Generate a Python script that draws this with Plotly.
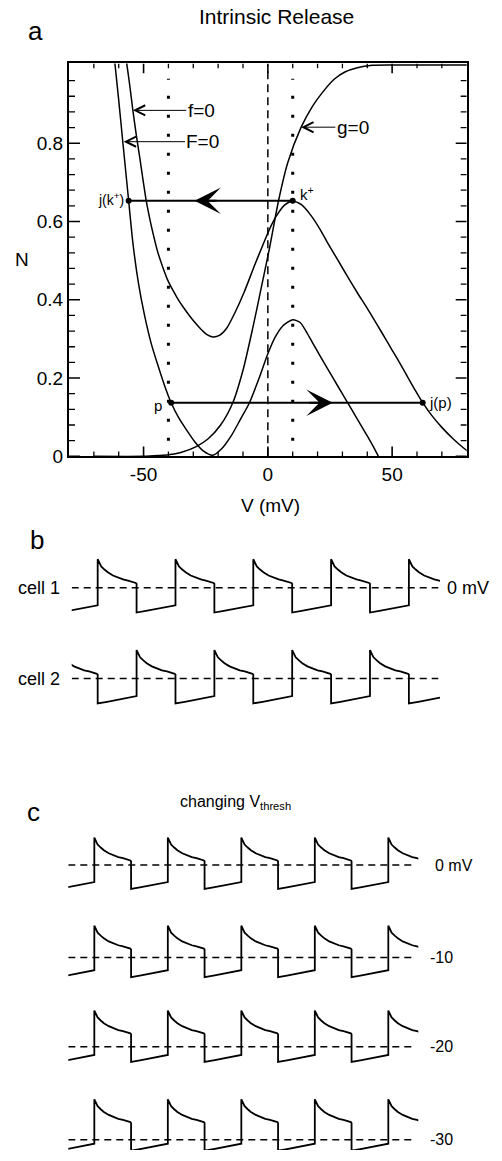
import plotly.graph_objects as go

FONT = "Liberation Sans, Arial, Helvetica, sans-serif"
W, H = 502, 1161

# ---------------- Panel a : phase plane ----------------
f0_V = [-58.5, -57.0, -55.5, -54.3, -52.9, -51.5, -50.2, -48.9, -47.6, -46.5, -44.3, -42.2,
        -40.2, -38.0, -36.0, -34.0, -32.2, -29.5, -26.8, -24.5, -22.1, -19.5, -16.5, -13.4,
        -9.5, -5.4, -2.0, 1.0, 3.5, 6.7, 10.0, 13.5, 17.4, 21.0, 24.1, 28.0, 32.2, 36.0,
        40.0, 44.0, 48.0, 52.0, 55.6, 59.0, 62.3, 66.0, 70.0, 74.5, 79.0, 82.0]
f0_N = [1.08, 1.014, 0.945, 0.884, 0.820, 0.762, 0.705, 0.652, 0.610, 0.578, 0.522, 0.482,
        0.449, 0.422, 0.400, 0.381, 0.365, 0.343, 0.324, 0.311, 0.305, 0.309, 0.328, 0.365,
        0.420, 0.487, 0.540, 0.585, 0.615, 0.642, 0.652, 0.643, 0.615, 0.580, 0.545, 0.503,
        0.458, 0.418, 0.378, 0.336, 0.293, 0.250, 0.210, 0.172, 0.137, 0.104, 0.074, 0.045,
        0.020, 0.006]

F0_V = [-62.5, -61.7, -60.0, -58.3, -56.0, -54.2, -52.0, -49.6, -47.0, -44.2, -41.5, -38.9,
        -36.0, -33.0, -29.5, -26.0, -22.1, -18.5, -14.5, -11.0, -7.4, -3.5, 0.0, 3.0, 6.0,
        10.0, 13.0, 15.5, 18.0, 21.0, 24.0, 28.0, 32.0, 36.0, 40.0, 43.5, 46.0]
F0_N = [1.06, 1.014, 0.910, 0.800, 0.653, 0.540, 0.440, 0.360, 0.290, 0.232, 0.180, 0.137,
        0.100, 0.070, 0.038, 0.014, 0.003, 0.020, 0.055, 0.095, 0.137, 0.200, 0.262, 0.305,
        0.333, 0.349, 0.342, 0.318, 0.290, 0.257, 0.224, 0.181, 0.138, 0.095, 0.052, 0.012,
        -0.02]

g0_V = [-70.0, -50.0, -44.0, -40.0, -35.0, -28.8, -24.0, -19.0, -14.1, -10.0, -6.0, -3.0,
        0.7, 4.3, 8.0, 13.4, 18.0, 22.0, 26.8, 31.0, 36.0, 42.0, 50.0, 85.0]
g0_N = [0.0, 0.0, 0.002, 0.004, 0.010, 0.025, 0.045, 0.080, 0.137, 0.220, 0.330, 0.420,
        0.533, 0.653, 0.750, 0.841, 0.895, 0.930, 0.964, 0.982, 0.993, 0.999, 1.0, 1.0]

V_THRESH = 0.0
DOTTED_V = [-40.0, 10.0]
DOTTED_N = [0.04, 0.965]
JUMP_HI_N = 0.653
JUMP_HI_V = [-56.0, 10.0]      # j(k+), k+
JUMP_LO_N = 0.137
JUMP_LO_V = [-38.9, 62.3]      # p, j(p)
ARROW_HI = [-29.5, -20.0]      # tip, tail
ARROW_LO = [26.1, 16.1]        # tip, tail

# tick values of panel a
X_MAJOR = [-50, 0, 50]
X_MAJOR_TEXT = ["-50", "0", "50"]
X_MINOR = [-70, -60, -40, -30, -20, -10, 10, 20, 30, 40, 60, 70]
Y_MAJOR = [0, 0.2, 0.4, 0.6, 0.8]
Y_MAJOR_TEXT = ["0", "0.2", "0.4", "0.6", "0.8"]
Y_MINOR = [0.04, 0.08, 0.12, 0.16, 0.24, 0.28, 0.32, 0.36, 0.44, 0.48, 0.52, 0.56,
           0.64, 0.68, 0.72, 0.76, 0.84, 0.88, 0.92, 0.96]

# ---------------- Panels b, c : voltage traces ----------------
CYCLE_T = [0, 0, 1, 2.2, 4.5, 8.7, 13, 19.6, 26, 32.6, 39, 45.6, 49, 50, 50, 62, 75, 88, 100]
CYCLE_V = [-39, 63, 58.5, 54.8, 47, 40.1, 34, 27, 22.5, 18.2, 15.6, 13.2, 10.5, 8.5,
           -55, -51.5, -47.5, -43.5, -39]
CELL1_ONSETS = [-100, 0, 100, 200, 300, 400]
CELL2_ONSETS = [-50, 50, 150, 250, 350]
C_ONSETS = [-100, 0, 100, 200, 300, 400]
C_THRESH = [0, -10, -20, -30]
C_LABELS = ["0 mV", "-10", "-20", "-30"]


def train(onsets):
    t, v = [], []
    for o in onsets:
        t += [o + x for x in CYCLE_T]
        v += CYCLE_V
    return t, v


fig = go.Figure()
BLK = "black"
XR = [-80, 80]
YR = [0, 1.004]
XDOM = [69 / W, 466.7 / W]
YDOM = [1 - 460.7 / H, 1 - 64 / H]
PX_PER_MV = (XDOM[1] - XDOM[0]) * W / (XR[1] - XR[0])
PX_PER_N = (YDOM[1] - YDOM[0]) * H / (YR[1] - YR[0])

# ---- panel a curves
for vv, nn in [(f0_V, f0_N), (F0_V, F0_N), (g0_V, g0_N)]:
    fig.add_trace(go.Scatter(x=vv, y=nn, mode="lines",
                             line=dict(color=BLK, width=1.5, shape="spline", smoothing=0.7),
                             xaxis="x", yaxis="y", hoverinfo="skip"))
fig.add_trace(go.Scatter(x=[V_THRESH, V_THRESH], y=[0, 1.0], mode="lines",
                         line=dict(color=BLK, width=1.5, dash="8px,5px"), xaxis="x", yaxis="y"))
for dv in DOTTED_V:
    fig.add_trace(go.Scatter(x=[dv, dv], y=DOTTED_N, mode="lines",
                             line=dict(color=BLK, width=3, dash="3px,16px"), xaxis="x", yaxis="y"))
fig.add_trace(go.Scatter(x=JUMP_HI_V, y=[JUMP_HI_N] * 2, mode="lines+markers",
                         line=dict(color=BLK, width=2), marker=dict(color=BLK, size=6),
                         xaxis="x", yaxis="y"))
fig.add_trace(go.Scatter(x=JUMP_LO_V, y=[JUMP_LO_N] * 2, mode="lines+markers",
                         line=dict(color=BLK, width=2), marker=dict(color=BLK, size=6),
                         xaxis="x", yaxis="y"))


# ---- inward tick marks on all four sides, placed at the tick values above
def xticks(vals, len_px):
    L = len_px / PX_PER_N
    xs, ys = [], []
    for v in vals:
        xs += [v, v, None, v, v, None]
        ys += [YR[0], YR[0] + L, None, YR[1], YR[1] - L, None]
    return xs, ys


def yticks(vals, len_px):
    L = len_px / PX_PER_MV
    xs, ys = [], []
    for n in vals:
        xs += [XR[0], XR[0] + L, None, XR[1], XR[1] - L, None]
        ys += [n, n, None, n, n, None]
    return xs, ys


for (xs, ys), w in [(xticks(X_MAJOR, 10), 1.6), (xticks(X_MINOR, 5), 1.3),
                    (yticks(Y_MAJOR, 11), 1.6), (yticks(Y_MINOR, 6), 1.3)]:
    fig.add_trace(go.Scatter(x=xs, y=ys, mode="lines", line=dict(color=BLK, width=w),
                             xaxis="x", yaxis="y", hoverinfo="skip"))

ann = []


def pa(px, py, text, size, xanchor="center", yanchor="middle"):
    ann.append(dict(x=px / W, y=1 - py / H, xref="paper", yref="paper", text=text,
                    showarrow=False, xanchor=xanchor, yanchor=yanchor,
                    font=dict(size=size, family=FONT, color=BLK)))


for tip, tail, n in [(ARROW_HI[0], ARROW_HI[1], JUMP_HI_N), (ARROW_LO[0], ARROW_LO[1], JUMP_LO_N)]:
    ann.append(dict(x=tip, y=n, ax=tail, ay=n, xref="x", yref="y", axref="x", ayref="y",
                    text="", showarrow=True, arrowhead=3, arrowsize=2.2, arrowwidth=2,
                    arrowcolor=BLK))
for tx, cx, cy, lab in [(-26.8, -54.3, 0.884, "f=0"), (-26.1, -58.0, 0.804, "F=0"),
                        (34.2, 13.4, 0.841, "g=0")]:
    ann.append(dict(x=cx, y=cy, ax=tx, ay=cy, xref="x", yref="y", axref="x", ayref="y",
                    text=lab, showarrow=True, arrowhead=5, arrowsize=2, arrowwidth=1,
                    arrowcolor=BLK, font=dict(size=19, family=FONT, color=BLK)))
ann.append(dict(x=JUMP_HI_V[0], y=JUMP_HI_N, xref="x", yref="y", text="j(k<sup>+</sup>)",
                showarrow=False, xanchor="right", xshift=-3, yshift=2,
                font=dict(size=14, family=FONT, color=BLK)))
ann.append(dict(x=JUMP_HI_V[1], y=JUMP_HI_N, xref="x", yref="y", text="k<sup>+</sup>",
                showarrow=False, xanchor="left", xshift=5, yshift=7,
                font=dict(size=15, family=FONT, color=BLK)))
ann.append(dict(x=JUMP_LO_V[0], y=JUMP_LO_N, xref="x", yref="y", text="p",
                showarrow=False, xanchor="right", xshift=-7, yshift=-3,
                font=dict(size=15, family=FONT, color=BLK)))
ann.append(dict(x=JUMP_LO_V[1], y=JUMP_LO_N, xref="x", yref="y", text="j(p)",
                showarrow=False, xanchor="left", xshift=4, yshift=0,
                font=dict(size=15, family=FONT, color=BLK)))
ann.append(dict(x=1.2, y=-0.006, xref="x", yref="y", ax=62, ay=21, text="V<sub>thresh</sub>",
                showarrow=True, arrowhead=0, arrowwidth=1, arrowcolor=BLK,
                font=dict(size=16, family=FONT, color=BLK)))

pa(276.7, 17, "Intrinsic Release", 21)
pa(35, 31, "a", 26)
pa(21.7, 262, "N", 19)
pa(270, 510, "V (mV)", 19)

layout = dict(
    width=W, height=H, margin=dict(l=0, r=0, t=0, b=0),
    paper_bgcolor="white", plot_bgcolor="white", showlegend=False,
    xaxis=dict(domain=XDOM, range=XR, anchor="y",
               tickmode="array", tickvals=X_MAJOR, ticktext=X_MAJOR_TEXT, ticks="",
               showline=True, linewidth=2, linecolor=BLK, mirror=True,
               showgrid=False, zeroline=False, fixedrange=True,
               tickfont=dict(size=19, family=FONT, color=BLK)),
    yaxis=dict(domain=YDOM, range=YR, anchor="x",
               tickmode="array", tickvals=Y_MAJOR, ticktext=Y_MAJOR_TEXT, ticks="",
               showline=True, linewidth=2, linecolor=BLK, mirror=True,
               showgrid=False, zeroline=False, fixedrange=True,
               tickfont=dict(size=19, family=FONT, color=BLK)),
)

# ---- trace rows (panels b and c), one hidden subplot per row
rows = []
# (onsets, thresh, zero_px, scale px/mV, x range, x domain px, dash end t)
rows.append((CELL1_ONSETS, 0, 593.3, 0.456, [-33.4, 440.0], [71.7, 440.0], 437.8))
rows.append((CELL2_ONSETS, 0, 685.0, 0.456, [-33.4, 440.0], [71.7, 440.0], 437.8))
c_zero = [873.3, 962.3, 1047.9, 1137.5]
for i in range(4):
    rows.append((C_ONSETS, C_THRESH[i], c_zero[i], 0.44, [-35.4, 440.8], [68.3, 418.3], 436.0))

for k, (ons, th, z, s, xr, xd, dend) in enumerate(rows):
    idx = k + 2
    lo, hi = -62.0, 72.0
    bottom = z - lo * s
    if bottom > H:
        bottom = H
        lo = -(H - z) / s
    top = z - hi * s
    xa, ya = "x%d" % idx, "y%d" % idx
    layout["xaxis%d" % idx] = dict(domain=[xd[0] / W, xd[1] / W], range=xr, anchor=ya,
                                   visible=False, fixedrange=True)
    layout["yaxis%d" % idx] = dict(domain=[1 - bottom / H, 1 - top / H], range=[lo, hi],
                                   anchor=xa, visible=False, fixedrange=True)
    t, v = train(ons)
    fig.add_trace(go.Scatter(x=[xr[0], dend], y=[th, th], mode="lines",
                             line=dict(color=BLK, width=1.5, dash="7px,5px"),
                             xaxis=xa, yaxis=ya, hoverinfo="skip"))
    fig.add_trace(go.Scatter(x=t, y=v, mode="lines", line=dict(color=BLK, width=1.8),
                             xaxis=xa, yaxis=ya, hoverinfo="skip"))

pa(36.7, 545, "b", 26)
pa(62, 593.3, "cell 1", 18, xanchor="right")
pa(62, 685, "cell 2", 18, xanchor="right")
pa(445, 593.3, "0 mV", 18, xanchor="left")
pa(33, 820, "c", 26)
pa(235, 810, "changing V<sub>thresh</sub>", 16)
c_lab_px = [433, 428, 428, 428]
c_lab_py = [873.3, 966.7, 1056.7, 1150.7]
for i in range(4):
    pa(c_lab_px[i], c_lab_py[i], C_LABELS[i], 16, xanchor="left")

layout["annotations"] = ann
fig.update_layout(**layout)
fig.write_html("out.html")
